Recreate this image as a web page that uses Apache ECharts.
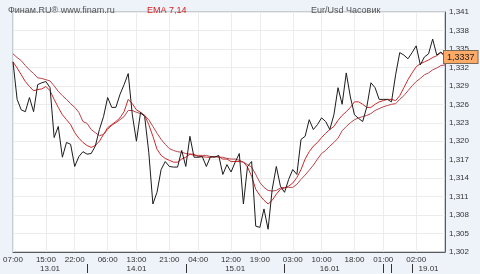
<!DOCTYPE html>
<html>
<head>
<meta charset="utf-8">
<script src="https://cdn.jsdelivr.net/npm/echarts@6/dist/echarts.min.js"></script>
<style>
html,body{margin:0;padding:0;background:#edf3f9;}
#chart{width:480px;height:274px;}
</style>
</head>
<body>
<div id="chart"></div>
<script>
// Hourly bars: day names and first/last hour of each day shown
const dayNames = ['13.01','14.01','15.01','16.01','17.01','18.01','19.01'];
const dayFirstHour = [7, 0, 0, 0, 0, 19, 0];
const dayLastHour = [23, 23, 23, 23, 1, 23, 9];

// Hour tick labels shown on the axis
const tickLabels = ['13.01 07:00','13.01 15:00','13.01 22:00','14.01 06:00','14.01 13:00','14.01 21:00',
  '15.01 04:00','15.01 12:00','15.01 19:00','16.01 03:00','16.01 10:00','16.01 18:00','17.01 01:00','19.01 02:00'];
// Day separator marks
const daySeparators = ['14.01 01:00','15.01 01:00','16.01 01:00','17.01 01:00','18.01 20:00','19.01 01:00'];
// Day name labels (centered in each day)
const dayLabelAt = ['13.01 16:00','14.01 13:00','15.01 13:00','16.01 12:00','19.01 05:00'];

// Eur/Usd hourly close
const closes = [
 1.3329,1.3268,1.3251,1.3248,1.3271,1.3248,1.3292,1.3295,1.3297,1.3287,
 1.3206,1.3224,1.3174,1.3198,1.3195,1.3159,1.3175,1.3183,1.3179,1.3180,
 1.3192,1.3219,1.3240,1.3271,1.3255,1.3255,1.3276,1.3292,1.3310,1.3243,
 1.3200,1.3247,1.3240,1.3182,1.3098,1.3117,1.3154,1.3167,1.3159,1.3158,
 1.3158,1.3185,1.3159,1.3208,1.3174,1.3174,1.3175,1.3159,1.3175,1.3174,
 1.3177,1.3146,1.3162,1.3150,1.3166,1.3180,1.3098,1.3159,1.3167,1.3062,
 1.3060,1.3090,1.3057,1.3122,1.3159,1.3127,1.3117,1.3138,1.3154,1.3146,
 1.3203,1.3208,1.3235,1.3219,1.3227,1.3238,1.3232,1.3219,1.3243,1.3287,
 1.3260,1.3311,1.3272,1.3243,1.3237,1.3232,1.3256,1.3295,1.3287,1.3268,
 1.3268,1.3268,1.3264,1.3308,1.3344,1.3340,1.3334,1.3344,1.3355,1.3324,
 1.3337,1.3342,1.3366,1.3340,1.3345,1.3337
];
// EMA 7
const ema7 = [
 1.3329,1.3319,1.3308,1.3297,1.3289,1.3282,1.3284,1.3285,1.3289,1.3282,
 1.3268,1.3255,1.3243,1.3235,1.3227,1.3214,1.3205,1.3198,1.3193,1.3190,
 1.3193,1.3200,1.3211,1.3222,1.3227,1.3232,1.3238,1.3248,1.3268,1.3261,
 1.3251,1.3247,1.3242,1.3227,1.3208,1.3187,1.3177,1.3172,1.3169,1.3166,
 1.3166,1.3171,1.3174,1.3179,1.3179,1.3175,1.3175,1.3174,1.3174,1.3175,
 1.3175,1.3171,1.3171,1.3167,1.3167,1.3167,1.3166,1.3158,1.3143,1.3122,
 1.3112,1.3104,1.3098,1.3104,1.3114,1.3122,1.3124,1.3127,1.3132,1.3141,
 1.3154,1.3171,1.3183,1.3192,1.3198,1.3206,1.3213,1.3219,1.3224,1.3234,
 1.3242,1.3248,1.3255,1.3264,1.3264,1.3260,1.3255,1.3255,1.3260,1.3264,
 1.3266,1.3268,1.3268,1.3266,1.3274,1.3287,1.3300,1.3311,1.3321,1.3326,
 1.3329,1.3332,1.3336,1.3339,1.3344,1.3340
];
// EMA 14
const ema14 = [
 1.3342,1.3336,1.3331,1.3323,1.3316,1.3310,1.3303,1.3302,1.3300,1.3298,
 1.3290,1.3281,1.3274,1.3268,1.3261,1.3255,1.3247,1.3232,1.3229,1.3219,
 1.3214,1.3209,1.3211,1.3219,1.3226,1.3230,1.3235,1.3240,1.3250,1.3250,
 1.3247,1.3245,1.3242,1.3235,1.3224,1.3213,1.3203,1.3195,1.3188,1.3185,
 1.3183,1.3182,1.3180,1.3179,1.3177,1.3177,1.3177,1.3177,1.3175,1.3175,
 1.3174,1.3174,1.3172,1.3171,1.3171,1.3169,1.3166,1.3162,1.3158,1.3146,
 1.3133,1.3125,1.3120,1.3119,1.3120,1.3124,1.3125,1.3125,1.3125,1.3130,
 1.3138,1.3145,1.3153,1.3161,1.3171,1.3180,1.3185,1.3192,1.3198,1.3205,
 1.3217,1.3224,1.3230,1.3235,1.3238,1.3240,1.3242,1.3245,1.3250,1.3253,
 1.3256,1.3258,1.3260,1.3261,1.3268,1.3274,1.3282,1.3290,1.3297,1.3302,
 1.3308,1.3311,1.3316,1.3319,1.3323,1.3324
];

const yMin = 1.302, yMax = 1.341, yStep = 0.003;

const categories = [];
dayNames.forEach((d, k) => {
  for (let h = dayFirstHour[k]; h <= dayLastHour[k]; h++) {
    categories.push(d + ' ' + String(h).padStart(2, '0') + ':00');
  }
});
const tickSet = new Set(tickLabels);
const sepSet = new Set(daySeparators);
const daySet = new Set(dayLabelAt);
const lastClose = closes[closes.length - 1];
const FONT = 'Liberation Sans';

const chart = echarts.init(document.getElementById('chart'), null, {renderer: 'canvas'});
chart.setOption({
  animation: false,
  backgroundColor: '#edf3f9',
  textStyle: {fontFamily: FONT},
  title: [
    {text: 'Финам.RU® www.finam.ru', left: 3, top: 1, textStyle: {fontSize: 9, fontWeight: 'normal', color: '#555', fontFamily: FONT}},
    {text: 'EMA 7,14', left: 142, top: 1, textStyle: {fontSize: 9, fontWeight: 'normal', color: '#d42020', fontFamily: FONT}},
    {text: 'Eur/Usd Часовик', left: 306, top: 1, textStyle: {fontSize: 9, fontWeight: 'normal', color: '#555', fontFamily: FONT}}
  ],
  grid: {left: 5, right: 35, top: 12, bottom: 22, show: true, backgroundColor: '#ffffff', borderColor: '#9aa4ae', borderWidth: 1},
  xAxis: [
    {
      type: 'category', data: categories, boundaryGap: false,
      axisLine: {show: true, lineStyle: {color: '#5a5a5a'}},
      axisTick: {show: false},
      axisLabel: {interval: (i, v) => tickSet.has(v), formatter: v => v.slice(6), fontSize: 8, color: '#333', margin: 4, fontFamily: FONT},
      splitLine: {show: true, interval: (i, v) => tickSet.has(v), lineStyle: {color: '#ececec', width: 1}}
    },
    {
      type: 'category', data: categories, boundaryGap: false, position: 'bottom', offset: 12,
      axisLine: {show: false},
      axisTick: {show: true, interval: (i, v) => sepSet.has(v), length: 9, lineStyle: {color: '#333'}},
      axisLabel: {interval: (i, v) => daySet.has(v), formatter: v => v.slice(0, 5), fontSize: 8, color: '#333', margin: 1, fontFamily: FONT},
      splitLine: {show: false}
    }
  ],
  yAxis: {
    type: 'value', position: 'right', min: yMin, max: yMax, interval: yStep,
    axisLine: {show: true, lineStyle: {color: '#5a5a5a'}},
    axisTick: {show: false},
    axisLabel: {formatter: v => v.toFixed(3).replace('.', ','), fontSize: 8, color: '#333', margin: 4, padding: [3, 0, 0, 0], fontFamily: FONT},
    splitLine: {show: true, lineStyle: {color: '#ececec', width: 1}},
    axisPointer: {
      show: true, value: lastClose, status: 'show', triggerTooltip: false, snap: false,
      lineStyle: {color: 'rgba(0,0,0,0)', width: 0},
      handle: {show: false},
      label: {
        show: true, margin: -1,
        formatter: () => lastClose.toFixed(4).replace('.', ','),
        backgroundColor: '#ffaa66', borderColor: '#7a6a5a', borderWidth: 1, borderRadius: 0,
        padding: [2, 3, 1, 3], color: '#222', fontSize: 9, fontFamily: FONT
      }
    }
  },
  series: [
    {
      name: 'EMA 14', type: 'line', data: ema14, symbol: 'none', silent: true,
      lineStyle: {color: '#b8444c', width: 1}
    },
    {
      name: 'EMA 7', type: 'line', data: ema7, symbol: 'none', silent: true,
      lineStyle: {color: '#cc2b2b', width: 1}
    },
    {
      name: 'Eur/Usd', type: 'line', data: closes, symbol: 'none', silent: true,
      lineStyle: {color: '#1c1c1c', width: 1}
    }
  ]
});
</script>
</body>
</html>
